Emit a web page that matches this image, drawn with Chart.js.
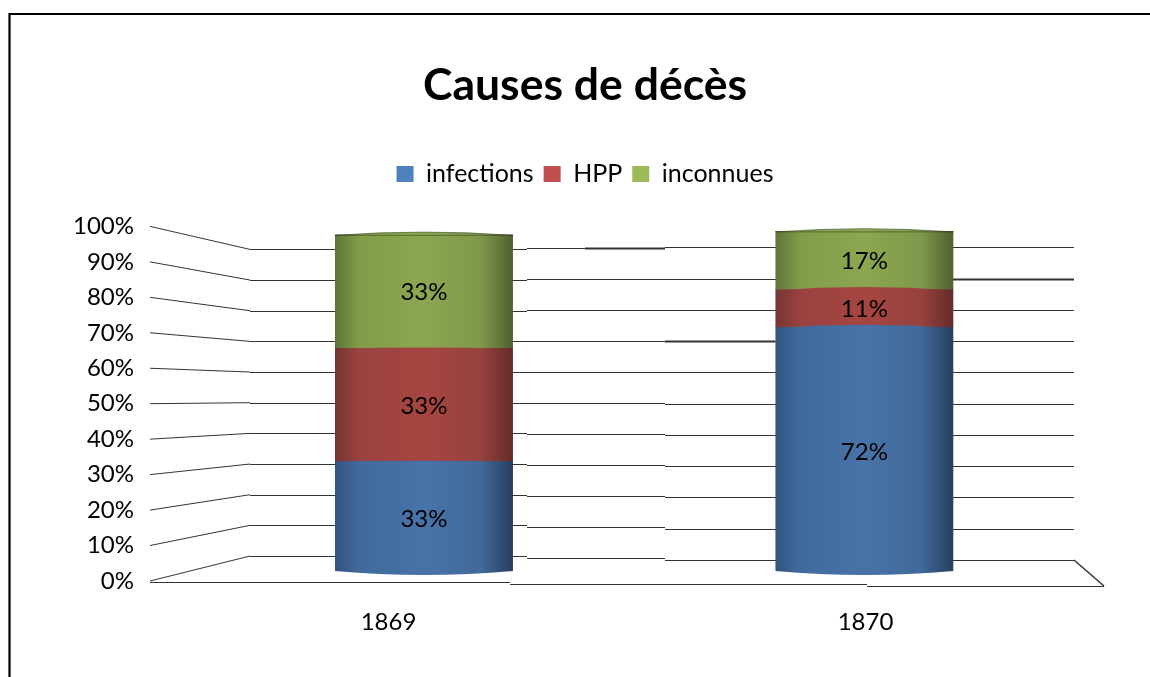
<!DOCTYPE html>
<html lang="fr">
<head>
<meta charset="utf-8">
<title>Causes de décès</title>
<script src="https://cdn.jsdelivr.net/npm/chart.js@4"></script>
<style>
  html, body { margin: 0; padding: 0; background: #fff; }
  canvas { display: block; }
</style>
</head>
<body>
<canvas id="chart" width="1150" height="677"></canvas>
<script>
const categories = ['1869', '1870'];
const years = [1869, 1870];
const infections = [33, 72];
const hpp = [33, 11];
const inconnues = [33, 17];
const tickValues = [0, 10, 20, 30, 40, 50, 60, 70, 80, 90, 100];
const legendColors = ['#4f81bd', '#c0504d', '#9bbb59'];

const FONT = 'Lato, sans-serif';
const BAR_WIDTH = 178;
const INK = '#333';

// left edge, middle, highlight, middle, dark edge
const shades = {
  blue:  ['#33547c', '#416a9c', '#4873a8', '#41699a', '#263f5e'],
  red:   ['#753533', '#9a4340', '#a64541', '#96423f', '#652b29'],
  green: ['#5f7438', '#829d4a', '#8ba750', '#7f984a', '#4f6030'],
};

function barFill(shade, fallback) {
  return c => {
    const x = c.chart.scales.xBar.getPixelForValue(years[c.dataIndex]);
    // scales have no pixels yet on the first pass, before layout
    if (!Number.isFinite(x)) return fallback;
    return cylinderGradient(c.chart.ctx, x, shade);
  };
}

function cylinderGradient(ctx, x, shade) {
  const g = ctx.createLinearGradient(x - BAR_WIDTH / 2, 0, x + BAR_WIDTH / 2, 0);
  [0, 0.14, 0.5, 0.82, 1].forEach((stop, i) => g.addColorStop(stop, shade[i]));
  return g;
}

function hline(ctx, x1, x2, y, width) {
  ctx.lineWidth = width || 1;
  ctx.beginPath();
  ctx.moveTo(x1, Math.round(y) + 0.5);
  ctx.lineTo(x2, Math.round(y) + 0.5);
  ctx.stroke();
}

// Frame, perspective walls and floor, then a clip for the round bar bottoms
const cylinderPlugin = {
  id: 'cylinder',
  beforeInit(chart) {
    // leave room under the legend
    const fit = chart.legend.fit;
    chart.legend.fit = function () {
      fit.call(this);
      this.height += 30;
    };
  },
  beforeDraw(chart) {
    const ctx = chart.ctx;
    ctx.save();
    ctx.strokeStyle = '#000';
    ctx.lineWidth = 2.2;
    ctx.beginPath();
    ctx.moveTo(1150, 14);
    ctx.lineTo(9.5, 14);
    ctx.lineTo(9.5, 677);
    ctx.stroke();
    ctx.restore();
  },
  beforeDatasetsDraw(chart) {
    const ctx = chart.ctx;
    const y = chart.scales.y;
    const { left, right, top, bottom } = chart.chartArea;
    const backL = left + 100, backR = right - 30;
    const h = bottom - top;

    ctx.save();
    ctx.strokeStyle = INK;
    tickValues.forEach(v => {
      const front = y.getPixelForValue(v);
      const t = (front - top) / h;
      const yL = top + 23 + t * (h - 48);
      const yR = top + 21 + t * (h - 42);
      const yM = (yL + yR) / 2;

      ctx.lineWidth = 1;
      ctx.beginPath();
      ctx.moveTo(left, front);
      ctx.lineTo(backL, yL);
      ctx.stroke();

      hline(ctx, backL, 527, yL);
      hline(ctx, 527, 665, yM);
      hline(ctx, 665, backR, yR);

      if (v === 100) hline(ctx, 585, 665, yM - 0.5, 2);
      if (v === 70) hline(ctx, 665, 775, yR, 2);
      if (v === 90) hline(ctx, 953, backR, yR, 2);
    });

    // floor front edge and its right corner
    const y0 = y.getPixelForValue(0);
    hline(ctx, left, 510, y0 + 1);
    hline(ctx, 510, 867, y0 + 3);
    hline(ctx, 867, right, y0 + 5);
    ctx.lineWidth = 1.5;
    ctx.beginPath();
    ctx.moveTo(backR, bottom - 21);
    ctx.lineTo(right, y0 + 5);
    ctx.stroke();
    ctx.restore();

    ctx.save();
    ctx.beginPath();
    chart.getDatasetMeta(0).data.forEach(bar => {
      const l = bar.x - BAR_WIDTH / 2, r = bar.x + BAR_WIDTH / 2;
      ctx.moveTo(l, top);
      ctx.lineTo(r, top);
      ctx.lineTo(r, bar.base - 4);
      ctx.quadraticCurveTo(bar.x, bar.base + 4, l, bar.base - 4);
      ctx.closePath();
    });
    ctx.clip();
  },
  afterDatasetsDraw(chart) {
    const ctx = chart.ctx;
    ctx.restore();

    const names = ['blue', 'red', 'green'];
    chart.data.datasets.forEach((ds, d) => {
      chart.getDatasetMeta(d).data.forEach((bar, i) => {
        const l = bar.x - BAR_WIDTH / 2, r = bar.x + BAR_WIDTH / 2;
        const isTop = d === chart.data.datasets.length - 1;
        const bulge = isTop || i === 1 ? 3 : 1;

        // rounded upper edge of the segment
        ctx.save();
        ctx.fillStyle = cylinderGradient(ctx, bar.x, shades[names[d]]);
        ctx.beginPath();
        ctx.moveTo(l, bar.y + 0.5);
        ctx.quadraticCurveTo(bar.x, bar.y - bulge * 2, r, bar.y + 0.5);
        ctx.closePath();
        ctx.fill();
        if (isTop) {
          ctx.strokeStyle = 'rgba(50,60,30,0.55)';
          ctx.lineWidth = 1;
          ctx.stroke();
        }
        ctx.restore();

        // value label
        ctx.save();
        ctx.fillStyle = '#000';
        ctx.font = '24px ' + FONT;
        ctx.textAlign = 'center';
        ctx.textBaseline = 'middle';
        ctx.fillText(ds.data[i].y + '%', bar.x, (bar.y + bar.base) / 2 + 1);
        ctx.restore();
      });
    });
  },
};

new Chart(document.getElementById('chart'), {
  type: 'bar',
  plugins: [cylinderPlugin],
  data: {
    labels: categories,
    datasets: [
      { label: 'infections', data: years.map((x, i) => ({ x, y: infections[i] })), backgroundColor: barFill(shades.blue, legendColors[0]), xAxisID: 'xBar', yAxisID: 'yBar', barThickness: BAR_WIDTH },
      { label: 'HPP', data: years.map((x, i) => ({ x, y: hpp[i] })), backgroundColor: barFill(shades.red, legendColors[1]), xAxisID: 'xBar', yAxisID: 'yBar', barThickness: BAR_WIDTH },
      { label: 'inconnues', data: years.map((x, i) => ({ x, y: inconnues[i] })), backgroundColor: barFill(shades.green, legendColors[2]), xAxisID: 'xBar', yAxisID: 'yBar', barThickness: BAR_WIDTH },
    ],
  },
  options: {
    responsive: false,
    animation: false,
    events: [],
    layout: { padding: { left: 66, right: 46, top: 0, bottom: 0 } },
    plugins: {
      title: {
        display: true,
        text: 'Causes de décès',
        color: '#000',
        font: { family: FONT, size: 44.5, weight: 'bold', lineHeight: 1.2 },
        padding: { top: 59, bottom: 39 },
      },
      legend: {
        position: 'top',
        labels: {
          color: '#000',
          font: { family: FONT, size: 25 },
          boxWidth: 17,
          boxHeight: 16,
          padding: 10,
          generateLabels: chart => Chart.defaults.plugins.legend.labels.generateLabels(chart)
            .map((item, i) => ({ ...item, fillStyle: legendColors[i], lineWidth: 0 })),
        },
      },
      tooltip: { enabled: false },
    },
    scales: {
      x: {
        type: 'category',
        offset: true,
        grid: { display: false },
        border: { display: false },
        ticks: { color: '#000', font: { family: FONT, size: 24 }, padding: 19, maxRotation: 0 },
        afterFit(scale) { scale.height = 96; },
      },
      y: {
        min: 0,
        max: 100,
        grid: { display: false },
        border: { display: false },
        ticks: { color: '#000', font: { family: FONT, size: 24 }, stepSize: 10, padding: 8, callback: v => v + '%' },
        afterFit(scale) { scale.width = 84; },
      },
      // bars stand on a plane set back from the labelled front edge
      xBar: { type: 'linear', display: false, stacked: true, offset: false, min: 1868.378, max: 1870.544 },
      yBar: { type: 'linear', display: false, stacked: true, min: -1.74, max: 101.45 },
    },
  },
});
</script>
</body>
</html>
